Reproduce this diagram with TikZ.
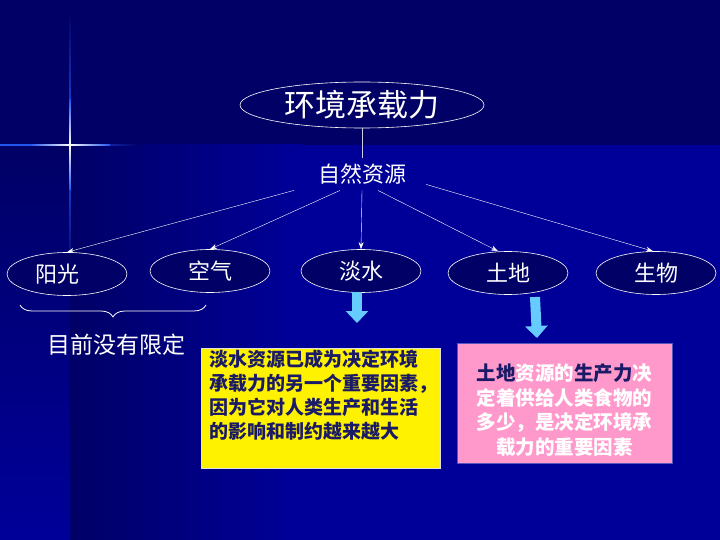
\documentclass[tikz,border=0pt]{standalone}
\usepackage{fontspec}
\setmainfont{Noto Sans CJK SC}
\usetikzlibrary{arrows.meta}
\usetikzlibrary{shapes.geometric}
\usetikzlibrary{decorations.pathreplacing}
\definecolor{navydark}{HTML}{000066}
\definecolor{navybright}{HTML}{000099}
\definecolor{glowblue}{HTML}{2255EE}
\definecolor{skyarrow}{HTML}{66CCFF}
\definecolor{pinkbox}{HTML}{FF99CC}
\definecolor{pinkedge}{HTML}{5555BB}
\definecolor{inkblue}{HTML}{1A1A66}

\begin{document}
\begin{tikzpicture}[x=1pt, y=-1pt,
    oval/.style={ellipse, draw=white, semithick, fill=navydark, text=white,
      minimum width=120pt, minimum height=43pt, inner sep=0pt,
      font=\fontsize{22}{24}\selectfont},
    plaintext/.style={text=white, font=\fontsize{22}{24}\selectfont},
    thinarrow/.style={-{Stealth[length=7pt,width=5pt]}, white, thin},
    bigarrow/.style={-{Triangle[length=12pt,width=22pt]}, line width=10pt, skyarrow}]
  \useasboundingbox (0,0) rectangle (720,540);
  % Background
  \fill[navydark] (0,0) rectangle (720,146);
  \fill[navybright] (300,145) rectangle (720,540);
  \shade[left color=navydark, right color=navybright] (70,145) rectangle (301,540);
  \shade[top color=navydark, bottom color=navybright] (0,145) rectangle (70,540);
  % Sparkle
  \shade[top color=navydark, bottom color=navydark, middle color=glowblue] (69.3,10) rectangle (70.7,280);
  \shade[top color=glowblue, bottom color=glowblue, middle color=white] (69.2,100) rectangle (70.8,190);
  \shade[left color=glowblue, right color=navydark, middle color=glowblue] (0,144.2) rectangle (140,145.8);
  \shade[left color=glowblue, right color=glowblue, middle color=white] (30,144.1) rectangle (110,145.9);
  \fill[white] (70,145) circle (1.3);
  % Title
  \node[ellipse, draw=white, semithick, minimum width=244pt, minimum height=46pt,
    inner sep=0pt, text=white, font=\fontsize{31}{33}\selectfont]
    (title) at (362,105) {环境承载力};
  \node[plaintext, inner xsep=0pt, inner ysep=6pt] (res) at (362,174) {自然资源};
  \draw[white!80!navydark] (title.south) -- (res.north);
  % Resources
  \node[oval] (sun) at (67,274) {阳光\rule{20pt}{0pt}};
  \node[oval] (air) at (210,271) {空气};
  \node[oval] (water) at (361,271) {淡水};
  \node[oval] (land) at (508,273) {土地};
  \node[oval] (bio) at (656,273) {生物};
  \draw[thinarrow] ([xshift=-24pt]res.south west) -- (sun.north);
  \draw[thinarrow] ([xshift=-22pt]res.south) -- (air.north);
  \draw[thinarrow] (res.south) -- (water.north);
  \draw[thinarrow] ([xshift=16pt]res.south) -- ([xshift=-10pt]land.north);
  \draw[thinarrow] ([xshift=20pt,yshift=6pt]res.south east) -- ([xshift=-3pt]bio.north);
  % Brace under sun and air
  \coordinate (braceleft) at (20,305);
  \coordinate (braceright) at (206,305);
  \draw[white, thick, decorate, decoration={brace, mirror, amplitude=12pt}]
    (braceleft) -- (braceright);
  \node[plaintext, font=\fontsize{23}{25}\selectfont] (nolimit) at (116,345) {目前没有限定};
  % Block arrows
  \coordinate (watertail) at (357,292);
  \coordinate (watertip) at (357,323);
  \draw[bigarrow] (watertail) -- (watertip);
  \coordinate (landtail) at (535,297);
  \coordinate (landtip) at (537,338);
  \draw[bigarrow] (landtail) -- (landtip);
  % Yellow box
  \node[draw=white!75!gray, fill=yellow, minimum width=239pt, minimum height=120pt,
    inner sep=0pt, anchor=north west] (waterbox) at (201,348) {};
  \node[anchor=north west, inner sep=0pt, align=left, text=inkblue,
    font=\fontsize{19}{24}\selectfont\bfseries] (watertext) at (209,350)
    {淡水资源已成为决定环境\\承载力的另一个重要因素，\\因为它对人类生产和生活\\的影响和制约越来越大};
  % Pink box
  \node[draw=pinkedge, fill=pinkbox, minimum width=215pt, minimum height=120pt,
    inner sep=0pt, align=center, text=white,
    font=\fontsize{19.5}{24.5}\selectfont\bfseries] (landbox) at (564.5,403)
    {\rule{0pt}{31pt}\textcolor{inkblue}{土地}资源的\textcolor{inkblue}{生产力}决\\定着供给人类食物的\\多少，是决定环境承\\载力的重要因素};
\end{tikzpicture}
\end{document}
